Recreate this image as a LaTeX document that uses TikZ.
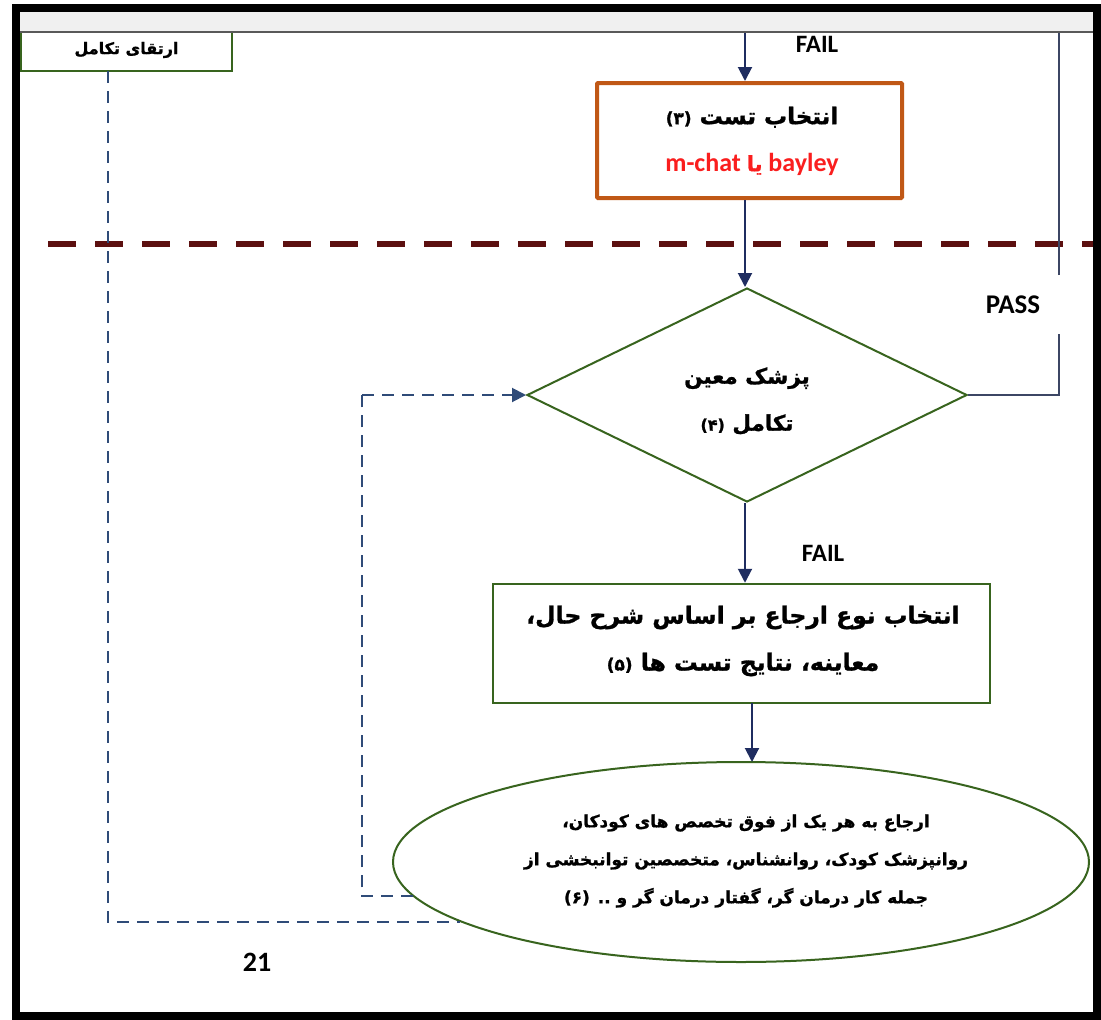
\documentclass[tikz,border=0pt]{standalone}
\usepackage{fontspec}
\setmainfont{Carlito}
\newfontfamily\arfont[Script=Arabic, BoldFeatures={FakeBold=1.2}]{DejaVu Sans}
\TeXXeTstate=1
\usetikzlibrary{arrows.meta,shapes.geometric,calc}
\newcommand\fa[1]{{\arfont\bfseries\beginR #1\endR}}
\newcommand\smallnum[2]{{\fontsize{#1}{#1}\selectfont #2}}
\definecolor{grn}{RGB}{56,100,30}
\definecolor{orng}{RGB}{192,88,22}
\definecolor{navy}{RGB}{31,45,96}
\definecolor{dashblue}{RGB}{47,75,120}
\definecolor{passline}{RGB}{60,70,100}
\definecolor{maroon}{RGB}{92,16,16}
\definecolor{redtxt}{RGB}{250,30,30}
\definecolor{strip}{RGB}{240,240,240}
\tikzset{
  greenbox/.style={draw=grn, line width=2.5pt, fill=white, inner sep=0pt},
  orangebox/.style={draw=orng, line width=4pt, fill=white, inner sep=0pt, rounded corners=1pt},
  arr/.style={draw=navy, line width=2pt, -{Triangle[width=14pt,length=14pt]}},
  dashconn/.style={draw=dashblue, line width=2pt, dash pattern=on 12pt off 8pt},
  lbl/.style={font=\fontsize{25}{28}\selectfont\bfseries, text=black, inner sep=0pt},
  txt/.style={align=center, inner sep=0pt, text=black}
}
\begin{document}
\begin{tikzpicture}[x=1pt,y=-1pt]
\useasboundingbox (0,0) rectangle (1101,1020);
\fill[white] (0,0) rectangle (1101,1020);

% nodes
\node[greenbox, minimum width=211pt, minimum height=42pt,
      font=\fontsize{16}{18}\selectfont] (t) at (126.5,50) {\fa{ارتقای تکامل}};

\node[orangebox, minimum width=305pt, minimum height=115pt] (b3) at (749.5,140.5) {};
\node[txt, font=\fontsize{23}{47}\selectfont] (b3t) at (752,141) {\fa{انتخاب تست \smallnum{17}{(۳)}}\\{\color{redtxt}\bfseries\fontsize{26}{28}\selectfont m-chat {\fontsize{21}{26}\selectfont\fa{یا}} bayley}};

\draw[maroon, line width=6pt, dash pattern=on 28pt off 19pt] (48,244) -- (1093,244);

\node[draw=grn, line width=2pt, fill=white, shape=diamond, aspect=2,
      minimum width=440pt, minimum height=214pt, inner sep=0pt] (d) at (747,395) {};
\node[txt, font=\fontsize{21.5}{47}\selectfont] (dt) at (747,401) {\fa{پزشک معین}\\\fa{تکامل \smallnum{16}{(۴)}}};

\node[greenbox, minimum width=497pt, minimum height=119pt] (b5) at (741.5,643.5) {};
\node[txt, font=\fontsize{23.5}{47}\selectfont] (b5t) at (743,641) {\fa{انتخاب نوع ارجاع بر اساس شرح حال،}\\\fa{معاینه، نتایج تست ها \smallnum{17}{(۵)}}};

\node[draw=grn, line width=2pt, fill=white, shape=ellipse,
      minimum width=696pt, minimum height=200pt, inner sep=0pt] (e) at (741,862) {};
\node[txt, font=\fontsize{17}{38}\selectfont] (et) at (746,861) {\fa{ارجاع به هر یک از فوق تخصص های کودکان،}\\\fa{روانپزشک کودک، روانشناس، متخصصین توانبخشی از}\\\fa{جمله کار درمان گر، گفتار درمان گر و .. (۶)}};

% coordinates
\coordinate (top) at (745,32);
\coordinate (tdash) at (108,71);
\coordinate (fbk) at (362,395);
\coordinate (pbot) at (1059,334);
\coordinate (ptop) at (1059,275);
\coordinate (pend) at (1059,32);

% connectors
\draw[arr] (top) -- (top |- b3.north);
\draw[arr] (b3.south -| top) -- (d.north -| top);
\draw[arr] (d.south -| top) -- (b5.north -| top);
\draw[arr] (752,703) -- (752,762);
\draw[passline, line width=1.5pt] (d.east) -| (pbot);
\draw[passline, line width=1.5pt] (ptop) -- (pend);
\draw[dashconn] (tdash) |- (e.192);
\draw[dashconn] (e.186) -| (fbk);
\draw[arr, dash pattern=on 12pt off 8pt, draw=dashblue] (fbk) -- (d.west);

% labels
\node[lbl] (f1) at (817,44) {FAIL};
\node[lbl] (f2) at (823,553) {FAIL};
\node[lbl, font=\fontsize{27}{30}\selectfont\bfseries] (ps) at (1013,305) {PASS};
\node[font=\fontsize{28}{30}\selectfont\bfseries, inner sep=0pt] (pg) at (257,962) {21};

% top strip and frame
\fill[strip] (16,8) rectangle (1097,32);
\draw[gray!70!black, line width=1.5pt] (16,32) -- (1097,32);
\draw[black, line width=8pt] (16,8) rectangle (1097,1016);
\end{tikzpicture}
\end{document}
